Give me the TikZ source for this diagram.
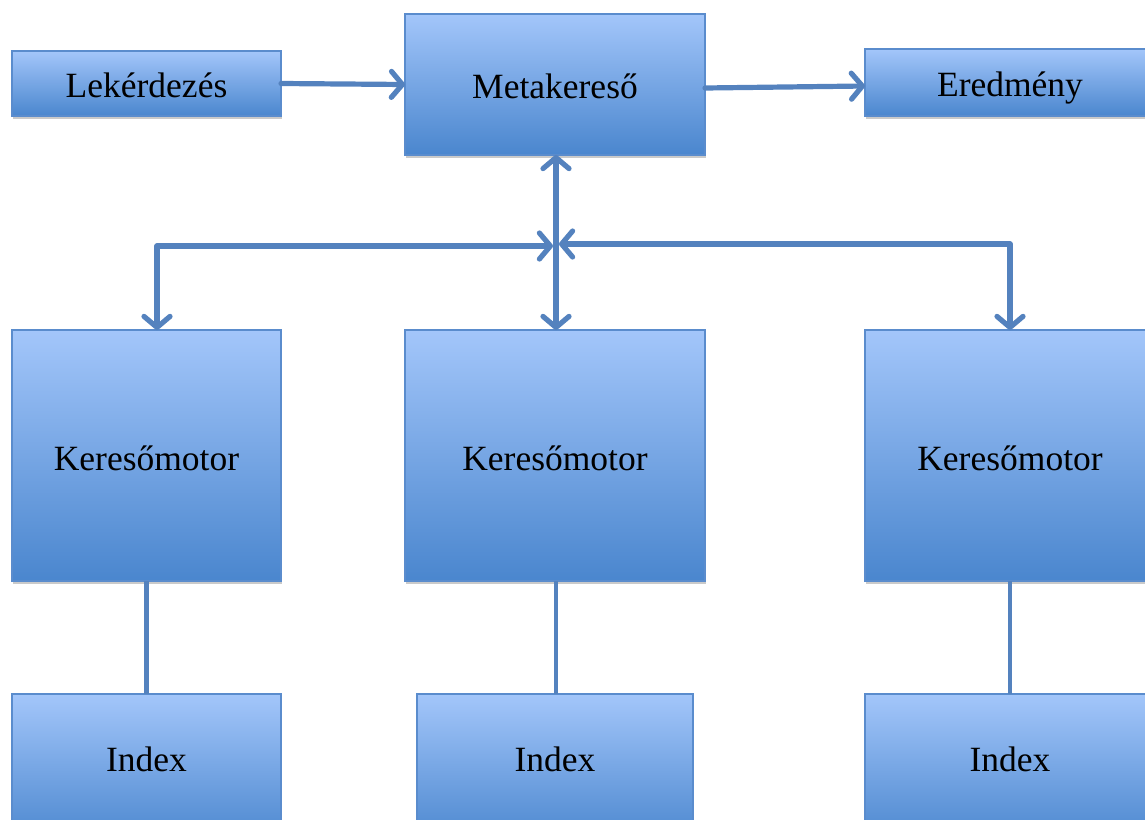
\documentclass[tikz,border=0pt]{standalone}
\usepackage{fontspec}
\setmainfont{Liberation Serif}
\usetikzlibrary{arrows.meta,shadows}
\definecolor{boxtop}{RGB}{163,198,250}
\definecolor{boxbot}{RGB}{74,134,206}
\definecolor{boxline}{RGB}{90,140,205}
\definecolor{conn}{RGB}{84,130,190}
\begin{document}
\begin{tikzpicture}[x=1pt,y=-1pt,
  blk/.style={draw=boxline,line width=1.5pt,top color=boxtop,bottom color=boxbot,
    inner sep=0pt,outer sep=0pt,
    drop shadow={shadow xshift=1pt,shadow yshift=-3pt,opacity=0.35,fill=black!60}},
  lbl/.style={font=\fontsize{35.5}{38}\selectfont,inner sep=0pt},
  conline/.style={draw=conn,line width=5.2pt,line cap=round,line join=round},
  tip/.style={-{Straight Barb[length=11pt,width=26pt,line width=5.2pt,round]}},
  bitip/.style={{Straight Barb[length=11pt,width=26pt,line width=5.2pt,round]}-{Straight Barb[length=11pt,width=26pt,line width=5.2pt,round]}},
  plain/.style={draw=conn,line width=4.2pt}]
\useasboundingbox (0,0) rectangle (1145,819);
\begin{scope}
\clip (0,0) rectangle (1145,819);
\node[blk,minimum width=269pt,minimum height=65pt] (lek) at (146.5,83.5) {};
\node[lbl] (lekt) at (146.5,85) {Lekérdezés};
\node[blk,minimum width=300pt,minimum height=141pt] (meta) at (555,84.5) {};
\node[lbl] (metat) at (555,86) {Metakereső};
\node[blk,minimum width=290pt,minimum height=67pt] (ered) at (1010,82.5) {};
\node[lbl] (eredt) at (1010,88) {Eredmény};
\node[blk,minimum width=269pt,minimum height=251pt] (k1) at (146.5,455.5) {};
\node[lbl] (k1t) at (146.5,458) {Keresőmotor};
\node[blk,minimum width=300pt,minimum height=251pt] (k2) at (555,455.5) {};
\node[lbl] (k2t) at (555,458) {Keresőmotor};
\node[blk,minimum width=290pt,minimum height=251pt] (k3) at (1010,455.5) {};
\node[lbl] (k3t) at (1010,458) {Keresőmotor};
\node[blk,minimum width=269pt,minimum height=150pt] (i1) at (146.5,769) {};
\node[lbl] (i1t) at (146.5,759) {Index};
\node[blk,minimum width=276pt,minimum height=150pt] (i2) at (555,769) {};
\node[lbl] (i2t) at (555,759) {Index};
\node[blk,minimum width=290pt,minimum height=150pt] (i3) at (1010,769) {};
\node[lbl] (i3t) at (1010,759) {Index};
\coordinate (jl) at (553,246);
\coordinate (jr) at (559,244);
\coordinate (jx) at (556,245);
\end{scope}
\draw[conline,tip] (lek.east) -- (meta.west);
\draw[conline,tip] (meta.east |- 0,88) -- (ered.west |- 0,86);
\draw[conline,bitip] (meta.south -| jx) -- (k2.north -| jx);
\draw[conline,bitip] (k1.north -| 157,0) -- (157,246) -- (jl);
\draw[conline,bitip] (k3.north) -- (1010,244) -- (jr);
\draw[plain] (k1.south) -- (i1.north);
\draw[plain] (k2.south -| jx) -- (i2.north -| jx);
\draw[plain] (k3.south) -- (i3.north);
\end{tikzpicture}
\end{document}
